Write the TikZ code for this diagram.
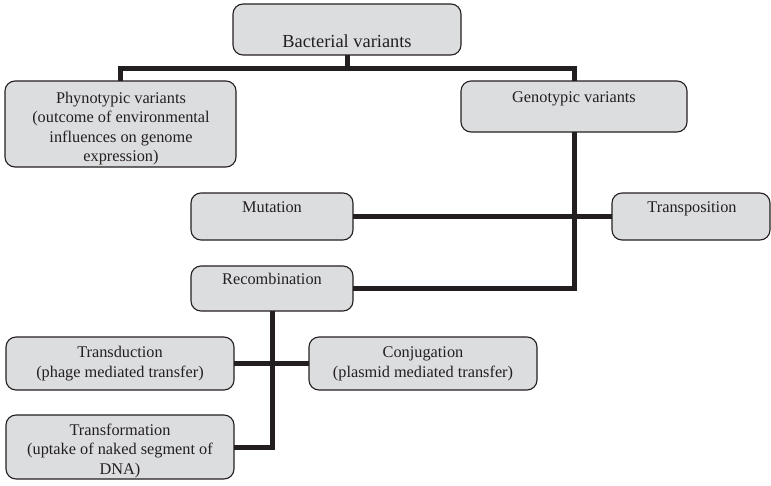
\documentclass[tikz,border=0pt]{standalone}
\usepackage{fontspec}
\setmainfont{Liberation Serif}
\begin{document}
\begin{tikzpicture}[x=1pt,y=-1pt,
  box/.style={draw=ink, line width=1.1pt, fill=boxfill, rounded corners=10pt,
              inner sep=0pt, outer sep=0pt},
  label/.style={font=\fontsize{16.3}{19.5}\selectfont, align=center, inner sep=0pt, anchor=base, text=ink},
  link/.style={draw=ink, line width=5pt, line join=miter}]
\definecolor{ink}{HTML}{231F20}
\definecolor{boxfill}{HTML}{DCDDDF}
\useasboundingbox (0,0) rectangle (771,485);

% boxes: centre and size
\newcommand{\boxat}[5]{%
  \node[box, minimum width=#4pt, minimum height=#5pt] (#1) at (#2,#3) {};}
\boxat{bact}{347}{29.5}{228}{51}
\boxat{pheno}{120.5}{124}{231}{86}
\boxat{geno}{574}{106.5}{226}{51}
\boxat{mut}{272}{216.5}{162}{47}
\boxat{trp}{691}{216.5}{158}{47}
\boxat{rec}{272}{288.5}{162}{45}
\boxat{tdu}{120}{363.5}{228}{53}
\boxat{conj}{423}{363.5}{228}{53}
\boxat{tfm}{120}{447}{228}{64}

% texts (base anchor = baseline of the last line)
\node[label, font=\fontsize{18.4}{22}\selectfont] (tbact) at (347,47) {Bacterial variants};
\node[label] (tpheno) at (121,161.5) {Phynotypic variants\\(outcome of environmental\\influences on genome\\expression)};
\node[label] (tgeno) at (574,102) {Genotypic variants};
\node[label] (tmut) at (272,212) {Mutation};
\node[label] (ttrp) at (692,212) {Transposition};
\node[label] (trec) at (272,284) {Recombination};
\node[label] (ttdu) at (120,377) {Transduction\\(phage mediated transfer)};
\node[label] (tconj) at (423,377) {Conjugation\\(plasmid mediated transfer)};
\node[label] (ttfm) at (120,474) {Transformation\\(uptake of naked segment of\\DNA)};

% connectors
\coordinate (j1) at (347,68.5);
\draw[link] (bact.south) -- (j1);
\draw[link] (pheno.north) |- (j1) -| (geno.north);
\draw[link] (geno.south) |- (rec.east);
\draw[link] (mut.east) -- (trp.west);
\draw[link] (rec.south) |- (tfm.east);
\draw[link] (tdu.east) -- (conj.west);
\end{tikzpicture}
\end{document}
